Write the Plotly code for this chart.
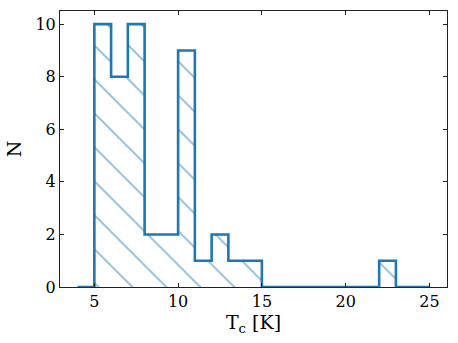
import plotly.graph_objects as go

# histogram of critical temperatures, bins of 1 K from 4 to 25
bin_edges = list(range(4, 26))
counts = [0, 10, 8, 10, 2, 2, 9, 1, 2, 1, 1, 0, 0, 0, 0, 0, 0, 0, 1, 0, 0]

x_ticks = [5, 10, 15, 20, 25]
y_ticks = [0, 2, 4, 6, 8, 10]

blue = '#1f77b4'
font = 'DejaVu Serif'

centers = [(a + b) / 2 for a, b in zip(bin_edges[:-1], bin_edges[1:])]

fig = go.Figure()

# hatched fill
fig.add_trace(go.Bar(
    x=centers, y=counts, width=1,
    marker=dict(
        color='rgba(0,0,0,0)',
        line=dict(width=0),
        pattern=dict(shape='\\', fgcolor=blue, bgcolor='rgba(0,0,0,0)',
                     size=24, solidity=0.08)
    ),
    showlegend=False, hoverinfo='skip'
))

# step outline
fig.add_trace(go.Scatter(
    x=bin_edges, y=counts + [0],
    mode='lines', line=dict(color=blue, width=2.6, shape='hv'),
    showlegend=False
))

axis_common = dict(
    showline=True, linecolor='#222', linewidth=1, mirror='ticks',
    ticks='inside', ticklen=4, tickcolor='#222', tickwidth=1,
    showgrid=False, zeroline=False, automargin=False,
    tickfont=dict(family=font, size=16, color='black'),
)

fig.update_layout(
    width=458, height=343,
    margin=dict(l=60, r=11, t=11, b=56),
    plot_bgcolor='white', paper_bgcolor='white',
    bargap=0,
    xaxis=dict(range=[2.95, 26.05], tickvals=x_ticks,
               title=dict(text='T<sub>c</sub> [K]', standoff=3,
                          font=dict(family=font, size=19, color='black')),
               **axis_common),
    yaxis=dict(range=[0, 10.5], tickvals=y_ticks,
               title=dict(text='N', standoff=8,
                          font=dict(family=font, size=19, color='black')),
               **axis_common),
)

fig.write_html("out.html", config={'displayModeBar': False},
               post_script="document.body.style.margin='0';")
